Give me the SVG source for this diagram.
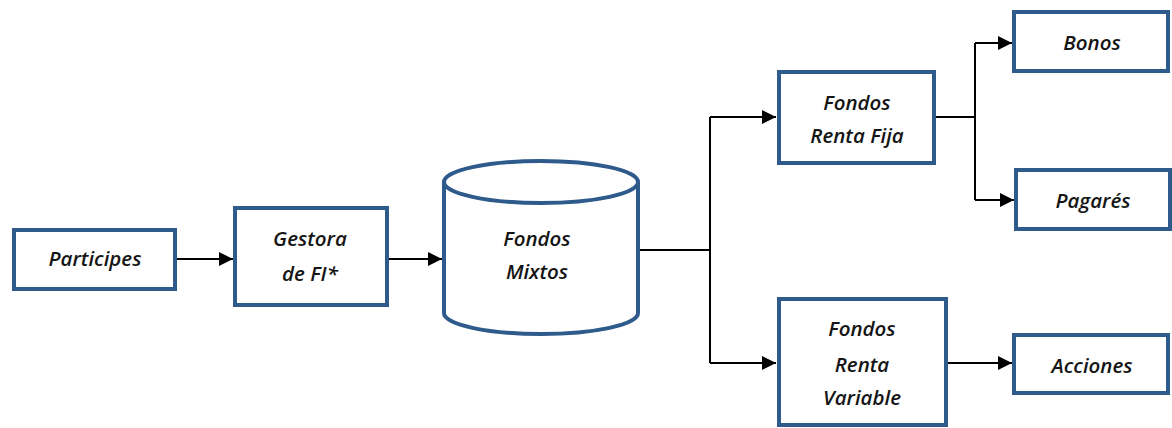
<svg xmlns="http://www.w3.org/2000/svg" width="1172" height="428" viewBox="0 0 1172 428">
<style>
.box{fill:#fff;stroke:#2E5A8C;stroke-width:4}
.t{font-family:"Open Sans","Noto Sans","Liberation Sans",sans-serif;font-style:italic;font-weight:600;font-size:20.5px;fill:#151515;text-anchor:middle}
.c{fill:none;stroke:#000;stroke-width:2}
</style>
<defs>
<marker id="ah" viewBox="0 0 10 10" refX="10" refY="5" markerWidth="14" markerHeight="14" markerUnits="userSpaceOnUse" orient="auto">
<path d="M0,0 L10,5 L0,10 z" fill="#000"/>
</marker>
</defs>
<rect width="1172" height="428" fill="#fff"/>
<g id="connectors">
<path class="c" d="M177,259 H233" marker-end="url(#ah)"/>
<path class="c" d="M389,259 H442" marker-end="url(#ah)"/>
<path class="c" d="M639,250 H710"/>
<path class="c" d="M710,117 V363"/>
<path class="c" d="M710,117 H776" marker-end="url(#ah)"/>
<path class="c" d="M710,363 H776" marker-end="url(#ah)"/>
<path class="c" d="M936,117 H975"/>
<path class="c" d="M975,43 V200"/>
<path class="c" d="M975,43 H1012" marker-end="url(#ah)"/>
<path class="c" d="M975,200 H1014" marker-end="url(#ah)"/>
<path class="c" d="M948,363 H1012" marker-end="url(#ah)"/>
</g>
<g id="participes">
<rect class="box" x="14" y="230" width="161" height="59"/>
<text class="t" x="95" y="266">Participes</text>
</g>
<g id="gestora">
<rect class="box" x="235" y="208" width="152" height="97"/>
<text class="t" x="310" y="246">Gestora</text>
<text class="t" x="310" y="281">de FI*</text>
</g>
<g id="fondos-mixtos">
<path class="box" d="M444,182 V313 A97,21 0 0 0 638,313 V182"/>
<ellipse class="box" cx="541" cy="182" rx="97" ry="21"/>
<text class="t" x="537" y="246">Fondos</text>
<text class="t" x="537" y="279">Mixtos</text>
</g>
<g id="renta-fija">
<rect class="box" x="779" y="72" width="155" height="91"/>
<text class="t" x="857" y="110">Fondos</text>
<text class="t" x="857" y="143">Renta Fija</text>
</g>
<g id="renta-variable">
<rect class="box" x="779" y="299" width="167" height="126"/>
<text class="t" x="862" y="336">Fondos</text>
<text class="t" x="862" y="372">Renta</text>
<text class="t" x="862" y="405">Variable</text>
</g>
<g id="bonos">
<rect class="box" x="1014" y="12" width="154" height="59"/>
<text class="t" x="1092" y="50">Bonos</text>
</g>
<g id="pagares">
<rect class="box" x="1016" y="170" width="154" height="59"/>
<text class="t" x="1093" y="208">Pagarés</text>
</g>
<g id="acciones">
<rect class="box" x="1014" y="335" width="154" height="58"/>
<text class="t" x="1092" y="373">Acciones</text>
</g>
</svg>
